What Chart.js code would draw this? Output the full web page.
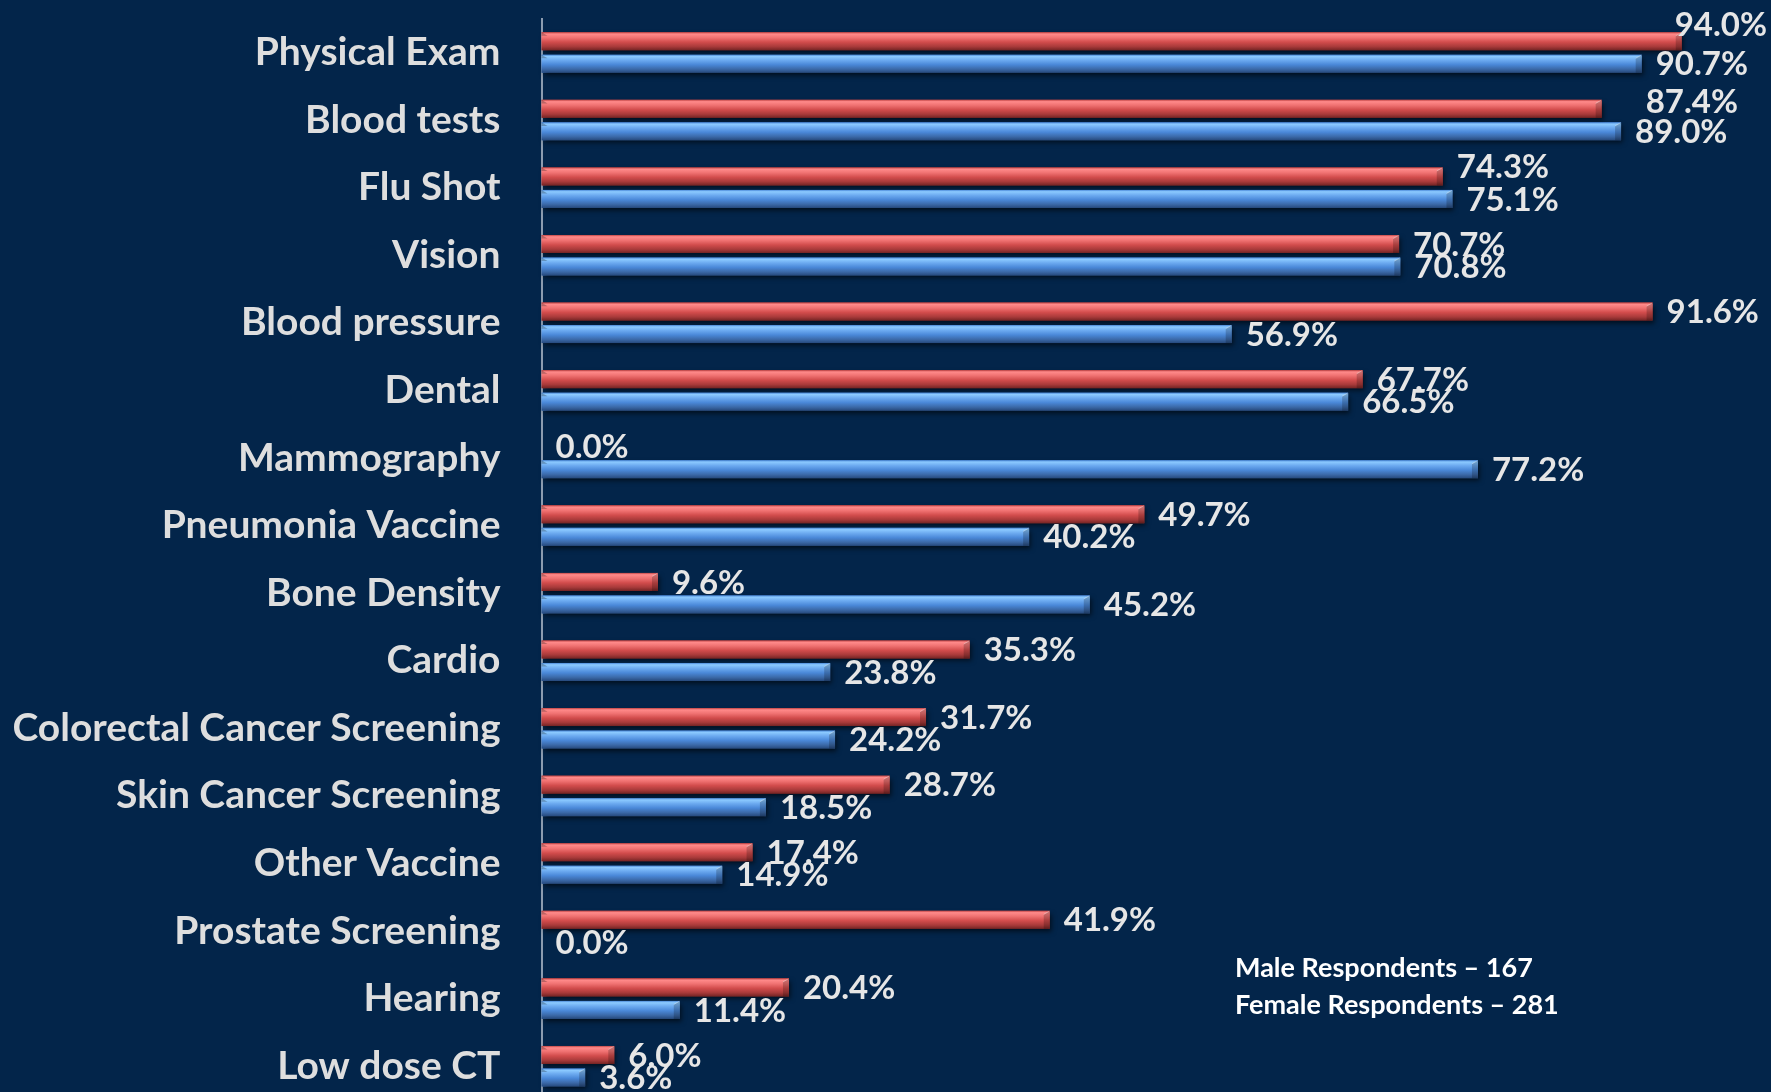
<!DOCTYPE html>
<html>
<head>
<meta charset="utf-8">
<script src="https://cdn.jsdelivr.net/npm/chart.js@4.4.1/dist/chart.umd.min.js"></script>
<style>
  html, body { margin: 0; padding: 0; background: #03254a; overflow: hidden; }
  #chart { display: block; }
</style>
</head>
<body>
<canvas id="chart" width="1771" height="1100"></canvas>
<script>
const categories = [
  'Physical Exam', 'Blood tests', 'Flu Shot', 'Vision', 'Blood pressure', 'Dental',
  'Mammography', 'Pneumonia Vaccine', 'Bone Density', 'Cardio',
  'Colorectal Cancer Screening', 'Skin Cancer Screening', 'Other Vaccine',
  'Prostate Screening', 'Hearing', 'Low dose CT'
];
const maleValues = [94.0, 87.4, 74.3, 70.7, 91.6, 67.7, 0.0, 49.7, 9.6, 35.3, 31.7, 28.7, 17.4, 41.9, 20.4, 6.0];
const femaleValues = [90.7, 89.0, 75.1, 70.8, 56.9, 66.5, 77.2, 40.2, 45.2, 23.8, 24.2, 18.5, 14.9, 0.0, 11.4, 3.6];
const respondentNotes = ['Male Respondents \u2013 167', 'Female Respondents \u2013 281'];

const redStops = [[0, '#c04444'], [0.1, '#ff8a8a'], [0.3, '#f07272'], [0.55, '#d24c4c'], [0.8, '#a83a3a'], [1, '#742424']];
const blueStops = [[0, '#4a88d8'], [0.1, '#8ccaff'], [0.3, '#6caaf0'], [0.55, '#4a88d8'], [0.8, '#3b69a8'], [1, '#26497c']];

// hand-moved value labels in the original (dataset -> index -> [dx, dy])
const labelNudges = [{ 0: [0, -17], 1: [30, -7], 2: [0, -10] }, {}];

// glossy bars with a drop shadow, painted over the library's own bar rectangles
const barShine = {
  id: 'barShine',
  afterDatasetsDraw(chart) {
    const ctx = chart.ctx;
    chart.data.datasets.forEach((ds, di) => {
      const stops = di === 0 ? redStops : blueStops;
      chart.getDatasetMeta(di).data.forEach(bar => {
        const left = Math.min(bar.base, bar.x);
        const w = Math.abs(bar.x - bar.base);
        if (w < 1) return;
        const top = bar.y - bar.height / 2;
        const h = bar.height;
        const g = ctx.createLinearGradient(0, top, 0, top + h);
        stops.forEach(([o, c]) => g.addColorStop(o, c));
        ctx.save();
        ctx.shadowColor = 'rgba(0,0,0,0.6)';
        ctx.shadowBlur = 5;
        ctx.shadowOffsetX = 2;
        ctx.shadowOffsetY = 3;
        ctx.fillStyle = g;
        ctx.fillRect(left, top, w, h);
        ctx.restore();
        // bevelled ends
        const b = Math.min(6, w / 2);
        const right = left + w;
        ctx.save();
        ctx.fillStyle = 'rgba(0,0,0,0.2)';
        ctx.beginPath();
        ctx.moveTo(right - b, top + b * 0.6);
        ctx.lineTo(right, top);
        ctx.lineTo(right, top + h);
        ctx.lineTo(right - b, top + h);
        ctx.closePath();
        ctx.fill();
        ctx.strokeStyle = 'rgba(255,255,255,0.35)';
        ctx.lineWidth = 1;
        ctx.beginPath();
        ctx.moveTo(right - b, top + b * 0.6);
        ctx.lineTo(right - 0.5, top + 0.5);
        ctx.stroke();
        ctx.fillStyle = 'rgba(0,0,0,0.25)';
        ctx.beginPath();
        ctx.moveTo(left, top);
        ctx.lineTo(left + b, top + b * 0.6);
        ctx.lineTo(left, top + b * 0.6);
        ctx.closePath();
        ctx.fill();
        ctx.restore();
      });
    });
  }
};

const valueLabels = {
  id: 'valueLabels',
  afterDatasetsDraw(chart) {
    const ctx = chart.ctx;
    ctx.save();
    ctx.font = 'bold 33px Lato';
    ctx.fillStyle = '#e6e6e6';
    ctx.textBaseline = 'middle';
    chart.data.datasets.forEach((ds, di) => {
      const nudges = labelNudges[di];
      chart.getDatasetMeta(di).data.forEach((bar, i) => {
        const text = ds.data[i].toFixed(1) + '%';
        const w = ctx.measureText(text).width;
        const n = nudges[i] || [0, 0];
        let x = bar.x + 14 + n[0];
        x = Math.min(x, chart.width - w - 4);
        ctx.fillText(text, x, bar.y + 1 + n[1]);
      });
    });
    ctx.restore();
  }
};

const respondentText = {
  id: 'respondentText',
  afterDraw(chart) {
    const ctx = chart.ctx;
    ctx.save();
    ctx.font = 'bold 27px Lato';
    ctx.fillStyle = '#ffffff';
    ctx.textBaseline = 'alphabetic';
    respondentNotes.forEach((t, i) => ctx.fillText(t, 1235, 977 + i * 37));
    ctx.restore();
  }
};

new Chart(document.getElementById('chart'), {
  type: 'bar',
  data: {
    labels: categories,
    datasets: [
      { label: 'Male', data: maleValues, backgroundColor: '#d24c4c' },
      { label: 'Female', data: femaleValues, backgroundColor: '#4a88d8' }
    ]
  },
  options: {
    indexAxis: 'y',
    responsive: false,
    animation: false,
    categoryPercentage: 0.666,
    barPercentage: 0.8,
    layout: { padding: { top: 18.7, right: 16.5, bottom: 0, left: 0 } },
    plugins: {
      legend: { display: false },
      tooltip: { enabled: false }
    },
    scales: {
      x: { min: 0, max: 100, display: false },
      y: {
        afterFit(scale) {
          scale.width = 541.5;
          scale.paddingTop = 0;
          scale.paddingBottom = 0;
        },
        grid: { display: false, drawTicks: false },
        border: { display: true, color: '#8c9cb0', width: 2 },
        ticks: {
          color: '#dedede',
          padding: 41,
          font: { family: 'Lato', weight: 'bold', size: 39 }
        }
      }
    }
  },
  plugins: [barShine, valueLabels, respondentText]
});
</script>
</body>
</html>
